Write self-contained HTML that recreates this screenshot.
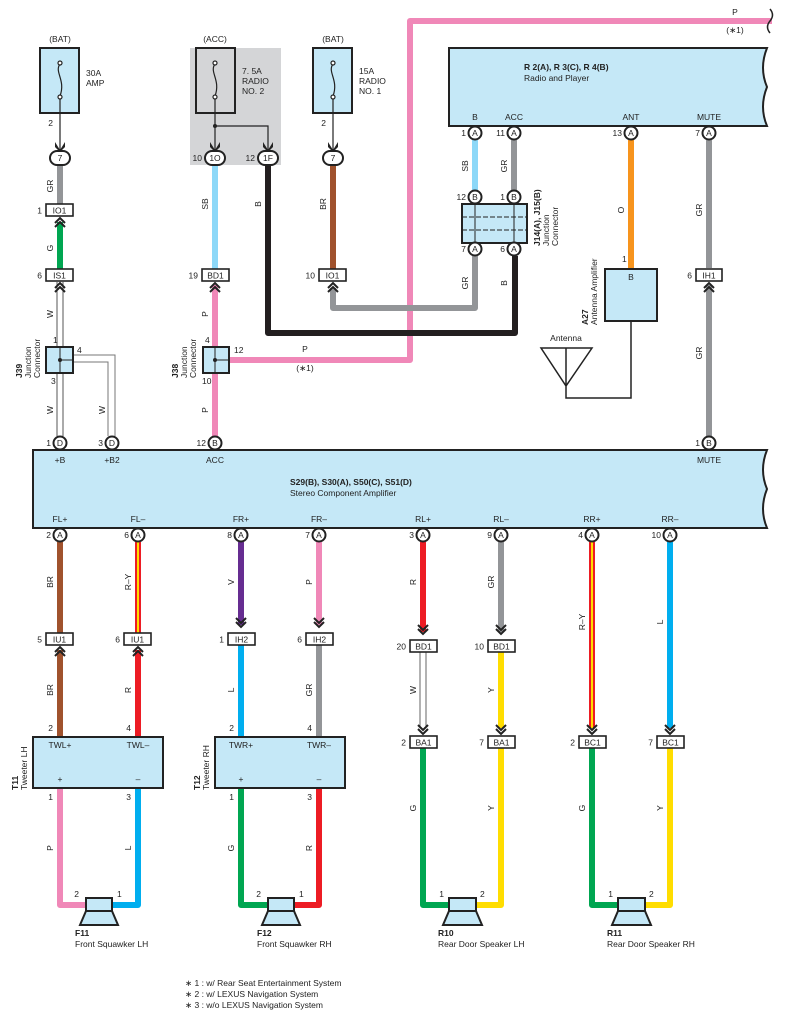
<!DOCTYPE html>
<html><head><meta charset="utf-8"><style>
html,body{margin:0;padding:0;background:#fff}
svg{display:block;font-family:"Liberation Sans",Arial,sans-serif}
text{font-size:8.5px;fill:#222}
.b{font-weight:bold}
.c{fill:#fff;stroke:#222;stroke-width:2}
.k{fill:#fff;stroke:#222;stroke-width:1.6}
.bx{fill:#c5e8f7;stroke:#222;stroke-width:2}
.w{fill:none;stroke-width:6;stroke-linejoin:round}
.ch{fill:none;stroke:#222;stroke-width:2}
.t{fill:none;stroke:#444;stroke-width:1}
</style></head><body>
<svg width="786" height="1019" viewBox="0 0 786 1019" xmlns="http://www.w3.org/2000/svg">
<!-- ACC grey bg -->
<rect x="190" y="48" width="91" height="117" fill="#d4d5d7"/>
<!-- top pink -->
<path class="w" stroke="#f088b8" d="M229 360 H410 V21 H772"/>
<path d="M770 9 q5 6 0 12 q-5 6 0 12" fill="none" stroke="#222" stroke-width="1.5"/>
<text x="735" y="15" text-anchor="middle">P</text><text x="735" y="33" text-anchor="middle">(∗1)</text>
<text x="305" y="352" text-anchor="middle">P</text><text x="305" y="371" text-anchor="middle">(∗1)</text>

<!-- fuse boxes -->
<text x="60" y="42" text-anchor="middle">(BAT)</text>
<rect class="bx" x="40" y="48" width="39" height="65"/>
<text x="86" y="76">30A</text><text x="86" y="86">AMP</text>
<text x="215" y="42" text-anchor="middle">(ACC)</text>
<rect x="196" y="48" width="39" height="65" fill="#d4d5d7" stroke="#222" stroke-width="2"/>
<text x="242" y="74">7. 5A</text><text x="242" y="84">RADIO</text><text x="242" y="94">NO. 2</text>
<text x="333" y="42" text-anchor="middle">(BAT)</text>
<rect class="bx" x="313" y="48" width="39" height="65"/>
<text x="359" y="74">15A</text><text x="359" y="84">RADIO</text><text x="359" y="94">NO. 1</text>
<g fill="none" stroke="#222" stroke-width="1.2">
<path d="M60 64 c-6 8 6 16 0 32"/><circle cx="60" cy="63" r="2" fill="#fff"/><circle cx="60" cy="97" r="2" fill="#fff"/>
<path d="M215 64 c-6 8 6 16 0 32"/><circle cx="215" cy="63" r="2" fill="#fff"/><circle cx="215" cy="97" r="2" fill="#fff"/>
<path d="M333 64 c-6 8 6 16 0 32"/><circle cx="333" cy="63" r="2" fill="#fff"/><circle cx="333" cy="97" r="2" fill="#fff"/>
<path d="M60 99 V150 M215 99 V150 M215 126 H268 V150 M333 99 V150"/>
</g>
<circle cx="215" cy="126" r="2" fill="#222"/>
<text x="53" y="126" text-anchor="end">2</text><text x="326" y="126" text-anchor="end">2</text>
<g fill="#222"><path d="M55 142 L60 150 L65 142 L65 147 L60 152 L55 147Z"/><path d="M210 142 L215 150 L220 142 L220 147 L215 152 L210 147Z"/><path d="M263 142 L268 150 L273 142 L273 147 L268 152 L263 147Z"/><path d="M328 142 L333 150 L338 142 L338 147 L333 152 L328 147Z"/></g>

<!-- wires top-left -->
<path class="w" stroke="#939598" d="M60 166 V204"/>
<path class="w" stroke="#00a651" d="M60 222 V269"/>
<path d="M57 282 V346 M63 282 V346 M57 373 V436 M63 373 V436" stroke="#555" stroke-width="1" fill="none"/>
<path d="M73 355 H115 V436 M73 362 H108 V436" stroke="#777" stroke-width="1" fill="none"/>
<path class="w" stroke="#8dd8f8" d="M215 166 V269"/>
<path class="w" stroke="#f088b8" d="M215 285 V436"/>
<path class="w" stroke="#231f20" d="M268 166 V333 H515 V256"/>
<path class="w" stroke="#a0522d" d="M333 166 V269"/>
<path class="w" stroke="#939598" d="M333 288 V308 H475 V256"/>
<!-- top ovals -->
<rect class="c" x="50" y="151" width="20" height="14" rx="7"/><text x="60" y="161" text-anchor="middle">7</text>
<rect class="c" x="205" y="151" width="20" height="14" rx="7"/><text x="215" y="161" text-anchor="middle">1O</text><text x="202" y="161" text-anchor="end">10</text>
<rect class="c" x="258" y="151" width="20" height="14" rx="7"/><text x="268" y="161" text-anchor="middle">1F</text><text x="255" y="161" text-anchor="end">12</text>
<rect class="c" x="323" y="151" width="20" height="14" rx="7"/><text x="333" y="161" text-anchor="middle">7</text>
<!-- wire labels top -->
<g text-anchor="middle">
<text transform="translate(53,186) rotate(-90)">GR</text>
<text transform="translate(53,248) rotate(-90)">G</text>
<text transform="translate(53,314) rotate(-90)">W</text>
<text transform="translate(53,410) rotate(-90)">W</text>
<text transform="translate(105,410) rotate(-90)">W</text>
<text transform="translate(208,204) rotate(-90)">SB</text>
<text transform="translate(261,204) rotate(-90)">B</text>
<text transform="translate(326,204) rotate(-90)">BR</text>
<text transform="translate(208,314) rotate(-90)">P</text>
<text transform="translate(208,410) rotate(-90)">P</text>
</g>
<!-- box connectors -->
<rect class="k" x="46" y="204" width="27" height="12"/><text x="59.5" y="213.5" text-anchor="middle">IO1</text><text x="42" y="213.5" text-anchor="end">1</text>
<path class="ch" d="M55 223 L60 218 L65 223 M55 227 L60 222 L65 227"/>
<rect class="k" x="46" y="269" width="27" height="12"/><text x="59.5" y="278.5" text-anchor="middle">IS1</text><text x="42" y="278.5" text-anchor="end">6</text>
<path class="ch" d="M55 288 L60 283 L65 288 M55 292 L60 287 L65 292"/>
<rect class="k" x="202" y="269" width="27" height="12"/><text x="215.5" y="278.5" text-anchor="middle">BD1</text><text x="198" y="278.5" text-anchor="end">19</text>
<path class="ch" d="M210 288 L215 283 L220 288 M210 292 L215 287 L220 292"/>
<rect class="k" x="319" y="269" width="27" height="12"/><text x="332.5" y="278.5" text-anchor="middle">IO1</text><text x="315" y="278.5" text-anchor="end">10</text>
<path class="ch" d="M328 288 L333 283 L338 288 M328 292 L333 287 L338 292"/>
<!-- J39 / J38 -->
<rect class="bx" x="46" y="347" width="27" height="26"/><path d="M60 347 V373 M60 360 H73" stroke="#222" stroke-width="1"/><circle cx="60" cy="360" r="2" fill="#222"/>
<text x="53" y="343">1</text><text x="77" y="353">4</text><text x="51" y="384">3</text>
<text class="b" transform="translate(22,378) rotate(-90)">J39</text><text transform="translate(31,378) rotate(-90)">Junction</text><text transform="translate(40,378) rotate(-90)">Connector</text>
<rect class="bx" x="203" y="347" width="26" height="26"/><path d="M215 347 V373 M215 360 H229" stroke="#222" stroke-width="1"/><circle cx="215" cy="360" r="2" fill="#222"/>
<text x="205" y="343">4</text><text x="234" y="353">12</text><text x="202" y="384">10</text>
<text class="b" transform="translate(178,378) rotate(-90)">J38</text><text transform="translate(187,378) rotate(-90)">Junction</text><text transform="translate(196,378) rotate(-90)">Connector</text>

<!-- Radio box -->
<path class="bx" d="M449 48 H767 q-8 20 0 39 q-8 20 0 39 H449Z"/>
<text class="b" x="524" y="70">R 2(A), R 3(C), R 4(B)</text><text x="524" y="81">Radio and Player</text>
<g text-anchor="middle"><text x="475" y="120">B</text><text x="514" y="120">ACC</text><text x="631" y="120">ANT</text><text x="709" y="120">MUTE</text></g>
<path class="w" stroke="#8dd8f8" d="M475 140 V190"/>
<path class="w" stroke="#939598" d="M514 140 V190"/>
<path class="w" stroke="#f7941d" d="M631 140 V268"/>
<path class="w" stroke="#939598" d="M709 140 V268 M709 285 V436"/>
<g text-anchor="middle">
<text transform="translate(468,166) rotate(-90)">SB</text><text transform="translate(507,166) rotate(-90)">GR</text>
<text transform="translate(468,283) rotate(-90)">GR</text><text transform="translate(507,283) rotate(-90)">B</text>
<text transform="translate(624,210) rotate(-90)">O</text>
<text transform="translate(702,210) rotate(-90)">GR</text><text transform="translate(702,353) rotate(-90)">GR</text>
</g>
<rect class="bx" x="462" y="204" width="65" height="39"/>
<path d="M475 204 V243 M514 204 V243" stroke="#222" stroke-width="1"/>
<path d="M462 217 H527 M462 230 H527" stroke="#222" stroke-width="1" stroke-dasharray="5,2"/>
<text class="b" transform="translate(540,246) rotate(-90)">J14(A), J15(B)</text><text transform="translate(549,246) rotate(-90)">Junction</text><text transform="translate(558,246) rotate(-90)">Connector</text>
<rect class="bx" x="605" y="269" width="52" height="52"/><text x="631" y="280" text-anchor="middle">B</text><text x="622" y="262">1</text>
<text class="b" transform="translate(588,325) rotate(-90)">A27</text><text transform="translate(597,325) rotate(-90)">Antenna Amplifier</text>
<text x="566" y="341" text-anchor="middle">Antenna</text>
<path d="M541 348 H592 L566 386Z M566 348 V398 H631 V321" fill="none" stroke="#222" stroke-width="1.5"/>
<rect class="k" x="696" y="269" width="26" height="12"/><text x="709" y="278.5" text-anchor="middle">IH1</text><text x="692" y="278.5" text-anchor="end">6</text>
<path class="ch" d="M704 288 L709 283 L714 288 M704 292 L709 287 L714 292"/>

<!-- Amp box -->
<path class="bx" d="M33 450 H767 q-8 20 0 39 q-8 20 0 39 H33Z"/>
<g text-anchor="middle"><text x="60" y="463">+B</text><text x="112" y="463">+B2</text><text x="215" y="463">ACC</text><text x="709" y="463">MUTE</text>
<text x="60" y="522">FL+</text><text x="138" y="522">FL–</text><text x="241" y="522">FR+</text><text x="319" y="522">FR–</text><text x="423" y="522">RL+</text><text x="501" y="522">RL–</text><text x="592" y="522">RR+</text><text x="670" y="522">RR–</text></g>
<text class="b" x="290" y="485">S29(B), S30(A), S50(C), S51(D)</text><text x="290" y="496">Stereo Component Amplifier</text>

<!-- lower wires -->
<path class="w" stroke="#a0522d" d="M60 542 V633 M60 650 V737"/>
<path class="w" stroke="#ed1c24" d="M138 542 V633 M138 650 V737"/><path d="M138 542 V633" stroke="#ffdd00" stroke-width="2"/>
<path class="w" stroke="#662d91" d="M241 542 V625"/><path class="w" stroke="#00aeef" d="M241 645 V737"/>
<path class="w" stroke="#f088b8" d="M319 542 V625"/><path class="w" stroke="#939598" d="M319 645 V737"/>
<path class="w" stroke="#ed1c24" d="M423 542 V632"/>
<path d="M420 652 V728 M426 652 V728" stroke="#666" stroke-width="1"/>
<path class="w" stroke="#939598" d="M501 542 V632"/><path class="w" stroke="#ffdd00" d="M501 652 V728"/>
<path class="w" stroke="#ed1c24" d="M592 542 V728"/><path d="M592 542 V728" stroke="#ffdd00" stroke-width="2"/>
<path class="w" stroke="#00aeef" d="M670 542 V728"/>
<!-- speaker runs -->
<path class="w" stroke="#f088b8" d="M60 788 V905 H86"/><path class="w" stroke="#00aeef" d="M138 788 V905 H112"/>
<path class="w" stroke="#00a651" d="M241 788 V905 H268"/><path class="w" stroke="#ed1c24" d="M319 788 V905 H294"/>
<path class="w" stroke="#00a651" d="M423 748 V905 H449"/><path class="w" stroke="#ffdd00" d="M501 748 V905 H476"/>
<path class="w" stroke="#00a651" d="M592 748 V905 H618"/><path class="w" stroke="#ffdd00" d="M670 748 V905 H645"/>
<g text-anchor="middle">
<text transform="translate(53,582) rotate(-90)">BR</text><text transform="translate(131,582) rotate(-90)">R–Y</text><text transform="translate(234,582) rotate(-90)">V</text><text transform="translate(312,582) rotate(-90)">P</text>
<text transform="translate(416,582) rotate(-90)">R</text><text transform="translate(494,582) rotate(-90)">GR</text><text transform="translate(585,622) rotate(-90)">R–Y</text><text transform="translate(663,622) rotate(-90)">L</text>
<text transform="translate(53,690) rotate(-90)">BR</text><text transform="translate(131,690) rotate(-90)">R</text><text transform="translate(234,690) rotate(-90)">L</text><text transform="translate(312,690) rotate(-90)">GR</text>
<text transform="translate(416,690) rotate(-90)">W</text><text transform="translate(494,690) rotate(-90)">Y</text>
<text transform="translate(53,848) rotate(-90)">P</text><text transform="translate(131,848) rotate(-90)">L</text><text transform="translate(234,848) rotate(-90)">G</text><text transform="translate(312,848) rotate(-90)">R</text>
<text transform="translate(416,808) rotate(-90)">G</text><text transform="translate(494,808) rotate(-90)">Y</text><text transform="translate(585,808) rotate(-90)">G</text><text transform="translate(663,808) rotate(-90)">Y</text>
</g>
<!-- lower box connectors -->
<g text-anchor="middle">
<rect class="k" x="46" y="633" width="27" height="12"/><text x="59.5" y="642.5">IU1</text>
<rect class="k" x="124" y="633" width="27" height="12"/><text x="137.5" y="642.5">IU1</text>
<rect class="k" x="228" y="633" width="27" height="12"/><text x="241.5" y="642.5">IH2</text>
<rect class="k" x="306" y="633" width="27" height="12"/><text x="319.5" y="642.5">IH2</text>
<rect class="k" x="410" y="640" width="27" height="12"/><text x="423.5" y="649.5">BD1</text>
<rect class="k" x="488" y="640" width="27" height="12"/><text x="501.5" y="649.5">BD1</text>
<rect class="k" x="410" y="736" width="27" height="12"/><text x="423.5" y="745.5">BA1</text>
<rect class="k" x="488" y="736" width="27" height="12"/><text x="501.5" y="745.5">BA1</text>
<rect class="k" x="579" y="736" width="27" height="12"/><text x="592.5" y="745.5">BC1</text>
<rect class="k" x="657" y="736" width="27" height="12"/><text x="670.5" y="745.5">BC1</text>
</g>
<g text-anchor="end">
<text x="42" y="642.5">5</text><text x="120" y="642.5">6</text><text x="224" y="642.5">1</text><text x="302" y="642.5">6</text>
<text x="406" y="649.5">20</text><text x="484" y="649.5">10</text><text x="406" y="745.5">2</text><text x="484" y="745.5">7</text><text x="575" y="745.5">2</text><text x="653" y="745.5">7</text>
</g>
<g class="ch">
<path d="M55 652 L60 647 L65 652 M55 656 L60 651 L65 656"/><path d="M133 652 L138 647 L143 652 M133 656 L138 651 L143 656"/>
<path d="M236 622 L241 627 L246 622 M236 618 L241 623 L246 618"/><path d="M314 622 L319 627 L324 622 M314 618 L319 623 L324 618"/>
<path d="M418 629 L423 634 L428 629 M418 625 L423 630 L428 625"/><path d="M496 629 L501 634 L506 629 M496 625 L501 630 L506 625"/>
<path d="M418 729 L423 734 L428 729 M418 725 L423 730 L428 725"/><path d="M496 729 L501 734 L506 729 M496 725 L501 730 L506 725"/>
<path d="M587 729 L592 734 L597 729 M587 725 L592 730 L597 725"/><path d="M665 729 L670 734 L675 729 M665 725 L670 730 L675 725"/>
</g>
<!-- tweeters -->
<rect class="bx" x="33" y="737" width="130" height="51"/>
<rect class="bx" x="215" y="737" width="130" height="51"/>
<g text-anchor="middle"><text x="60" y="748">TWL+</text><text x="138" y="748">TWL–</text><text x="60" y="782">+</text><text x="138" y="782">–</text>
<text x="241" y="748">TWR+</text><text x="319" y="748">TWR–</text><text x="241" y="782">+</text><text x="319" y="782">–</text></g>
<text x="53" y="731" text-anchor="end">2</text><text x="131" y="731" text-anchor="end">4</text><text x="234" y="731" text-anchor="end">2</text><text x="312" y="731" text-anchor="end">4</text>
<text x="53" y="800" text-anchor="end">1</text><text x="131" y="800" text-anchor="end">3</text><text x="234" y="800" text-anchor="end">1</text><text x="312" y="800" text-anchor="end">3</text>
<text class="b" transform="translate(18,790) rotate(-90)">T11</text><text transform="translate(27,790) rotate(-90)">Tweeter LH</text>
<text class="b" transform="translate(200,790) rotate(-90)">T12</text><text transform="translate(209,790) rotate(-90)">Tweeter RH</text>
<!-- speakers -->
<g>
<rect class="bx" x="86" y="898" width="26" height="13"/><path class="bx" d="M86 911 H112 L118 925 H80Z"/>
<rect class="bx" x="268" y="898" width="26" height="13"/><path class="bx" d="M268 911 H294 L300 925 H262Z"/>
<rect class="bx" x="449" y="898" width="27" height="13"/><path class="bx" d="M449 911 H476 L482 925 H443Z"/>
<rect class="bx" x="618" y="898" width="27" height="13"/><path class="bx" d="M618 911 H645 L651 925 H612Z"/>
</g>
<text x="79" y="897" text-anchor="end">2</text><text x="117" y="897">1</text>
<text x="261" y="897" text-anchor="end">2</text><text x="299" y="897">1</text>
<text x="444" y="897" text-anchor="end">1</text><text x="480" y="897">2</text>
<text x="613" y="897" text-anchor="end">1</text><text x="649" y="897">2</text>
<text class="b" x="75" y="936">F11</text><text x="75" y="947">Front Squawker LH</text>
<text class="b" x="257" y="936">F12</text><text x="257" y="947">Front Squawker RH</text>
<text class="b" x="438" y="936">R10</text><text x="438" y="947">Rear Door Speaker LH</text>
<text class="b" x="607" y="936">R11</text><text x="607" y="947">Rear Door Speaker RH</text>
<text x="185" y="986">∗ 1 : w/ Rear Seat Entertainment System</text>
<text x="185" y="997">∗ 2 : w/ LEXUS Navigation System</text>
<text x="185" y="1008">∗ 3 : w/o LEXUS Navigation System</text>

<!-- circle connectors -->
<g>
<circle class="c" cx="475" cy="133" r="6.5"/><circle class="c" cx="514" cy="133" r="6.5"/><circle class="c" cx="631" cy="133" r="6.5"/><circle class="c" cx="709" cy="133" r="6.5"/>
<circle class="c" cx="475" cy="197" r="6.5"/><circle class="c" cx="514" cy="197" r="6.5"/><circle class="c" cx="475" cy="249" r="6.5"/><circle class="c" cx="514" cy="249" r="6.5"/>
<circle class="c" cx="60" cy="443" r="6.5"/><circle class="c" cx="112" cy="443" r="6.5"/><circle class="c" cx="215" cy="443" r="6.5"/><circle class="c" cx="709" cy="443" r="6.5"/>
<circle class="c" cx="60" cy="535" r="6.5"/><circle class="c" cx="138" cy="535" r="6.5"/><circle class="c" cx="241" cy="535" r="6.5"/><circle class="c" cx="319" cy="535" r="6.5"/>
<circle class="c" cx="423" cy="535" r="6.5"/><circle class="c" cx="501" cy="535" r="6.5"/><circle class="c" cx="592" cy="535" r="6.5"/><circle class="c" cx="670" cy="535" r="6.5"/>
</g>
<g text-anchor="middle">
<text x="475" y="136">A</text><text x="514" y="136">A</text><text x="631" y="136">A</text><text x="709" y="136">A</text>
<text x="475" y="200">B</text><text x="514" y="200">B</text><text x="475" y="252">A</text><text x="514" y="252">A</text>
<text x="60" y="446">D</text><text x="112" y="446">D</text><text x="215" y="446">B</text><text x="709" y="446">B</text>
<text x="60" y="538">A</text><text x="138" y="538">A</text><text x="241" y="538">A</text><text x="319" y="538">A</text>
<text x="423" y="538">A</text><text x="501" y="538">A</text><text x="592" y="538">A</text><text x="670" y="538">A</text>
</g>
<g text-anchor="end">
<text x="466" y="136">1</text><text x="505" y="136">11</text><text x="622" y="136">13</text><text x="700" y="136">7</text>
<text x="466" y="200">12</text><text x="505" y="200">1</text><text x="466" y="252">7</text><text x="505" y="252">6</text>
<text x="51" y="446">1</text><text x="103" y="446">3</text><text x="206" y="446">12</text><text x="700" y="446">1</text>
<text x="51" y="538">2</text><text x="129" y="538">6</text><text x="232" y="538">8</text><text x="310" y="538">7</text>
<text x="414" y="538">3</text><text x="492" y="538">9</text><text x="583" y="538">4</text><text x="661" y="538">10</text>
</g>
</svg>
</body></html>
